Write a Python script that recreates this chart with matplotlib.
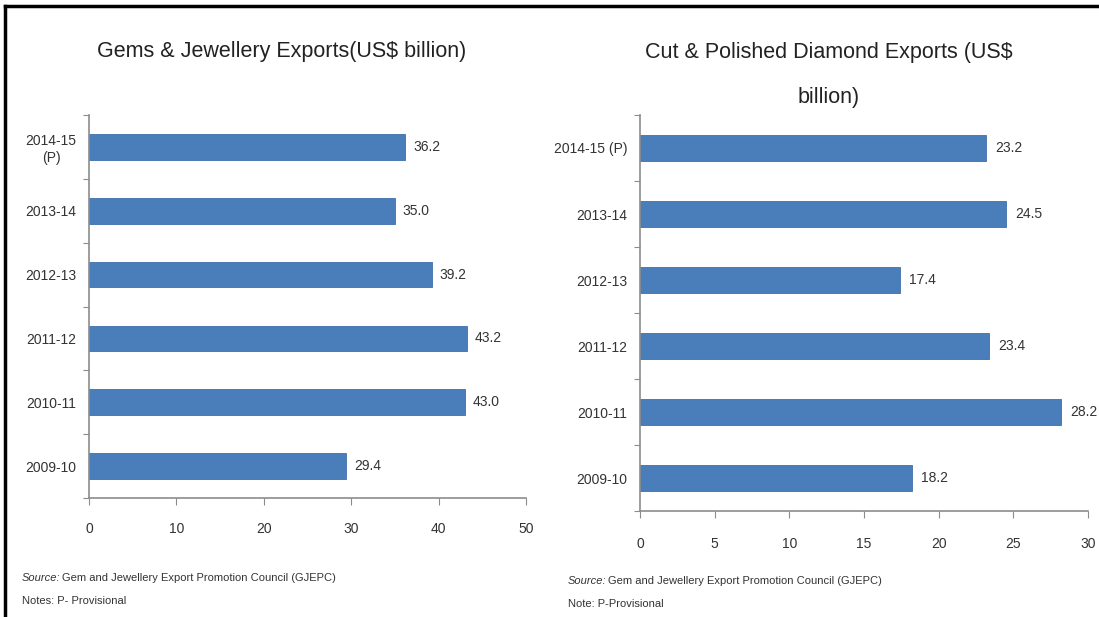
import matplotlib
matplotlib.use("Agg")
import matplotlib.pyplot as plt
from matplotlib.lines import Line2D
import numpy as np

plt.rcParams["font.family"] = ["Liberation Sans Narrow", "Liberation Sans", "DejaVu Sans"]

# data (US$ billion), listed bottom to top
gems_years = ["2009-10", "2010-11", "2011-12", "2012-13", "2013-14", "2014-15\n(P)"]
gems_vals = [29.4, 43.0, 43.2, 39.2, 35.0, 36.2]
gems_ticks = [0, 10, 20, 30, 40, 50]

dia_years = ["2009-10", "2010-11", "2011-12", "2012-13", "2013-14", "2014-15 (P)"]
dia_vals = [18.2, 28.2, 23.4, 17.4, 24.5, 23.2]
dia_ticks = [0, 5, 10, 15, 20, 25, 30]

BLUE = "#4A7EBB"
SPINE = "#8C8C8C"
TXT = "#333333"

W, H = 1099, 617
fig = plt.figure(figsize=(W / 100, H / 100), dpi=100)


def px(x0, y0, x1, y1):
    return [x0 / W, 1 - y1 / H, (x1 - x0) / W, (y1 - y0) / H]


def panel(rect, cats, vals, ticks, lab_off, xpad):
    ax = fig.add_axes(rect)
    pos = np.arange(len(cats))
    ax.barh(pos, vals, height=0.4, color=BLUE, edgecolor="#3F6FA8", linewidth=0.6)
    for p, v in zip(pos, vals):
        ax.text(v + lab_off, p, f"{v:.1f}", va="center", ha="left", fontsize=10, color=TXT)
    ax.set_xlim(ticks[0], ticks[-1])
    ax.set_ylim(-0.5, len(cats) - 0.5)
    ax.set_xticks(ticks)
    ax.set_xticklabels([str(t) for t in ticks], fontsize=10, color=TXT)
    # category boundaries carry the tick marks, labels sit at bar centres
    ax.set_yticks(np.arange(-0.5, len(cats), 1.0))
    ax.set_yticklabels([])
    ax.set_yticks(pos, minor=True)
    ax.set_yticklabels(cats, minor=True, fontsize=10, color=TXT, ha="right", multialignment="center")
    ax.tick_params(axis="y", which="major", length=4, color=SPINE, direction="out")
    ax.tick_params(axis="y", which="minor", length=0, pad=9)
    ax.tick_params(axis="x", length=5, color=SPINE, pad=xpad)
    for s in ("top", "right"):
        ax.spines[s].set_visible(False)
    for s in ("left", "bottom"):
        ax.spines[s].set_color(SPINE)
        ax.spines[s].set_linewidth(1.2)
    return ax


panel(px(89, 115, 526, 498), gems_years, gems_vals, gems_ticks, 0.9, 12)
panel(px(640, 115, 1088, 511), dia_years, dia_vals, dia_ticks, 0.6, 14)

fig.text(282 / W, 1 - 52 / H, "Gems & Jewellery Exports(US$ billion)",
         ha="center", va="center", fontsize=15.5, color="#222222")
fig.text(829 / W, 1 - 75 / H, "Cut & Polished Diamond Exports (US$\nbillion)",
         ha="center", va="center", fontsize=15.5, color="#222222", linespacing=2.5)

# footnotes: italic "Source:" followed by the rest of the line
renderer = fig.canvas.get_renderer()


def source_line(x, y, rest):
    t = fig.text(x / W, 1 - y / H, "Source:", style="italic", fontsize=8, color=TXT, va="center")
    bb = t.get_window_extent(renderer=renderer)
    fig.text((bb.x1 + 1) / W, 1 - y / H, rest, fontsize=8, color=TXT, va="center")


source_line(22, 578, "Gem and Jewellery Export Promotion Council (GJEPC)")
fig.text(22 / W, 1 - 601 / H, "Notes: P- Provisional", fontsize=8, color=TXT, va="center")
source_line(568, 581, "Gem and Jewellery Export Promotion Council (GJEPC)")
fig.text(568 / W, 1 - 604 / H, "Note: P-Provisional", fontsize=8, color=TXT, va="center")

# outer frame (left and top edges)
fig.add_artist(Line2D([5 / W, 5 / W], [0, 1 - 6 / H], color="black", lw=2.5))
fig.add_artist(Line2D([5 / W, 1], [1 - 6 / H, 1 - 6 / H], color="black", lw=2.5))

fig.savefig("out.png", dpi=100)
